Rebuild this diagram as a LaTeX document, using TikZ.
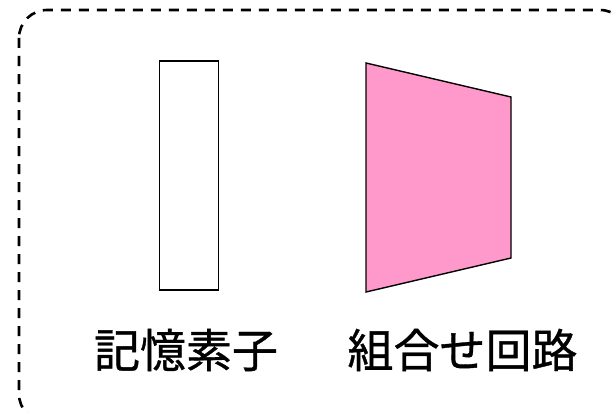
\documentclass[tikz,border=0pt]{standalone}
\usepackage{fontspec}
\newfontfamily\jpfont[FakeBold=0.8]{Noto Sans CJK JP}
\usetikzlibrary{positioning}

\definecolor{circpink}{HTML}{FF99CC}

\begin{document}
\begin{tikzpicture}[x=1pt, y=-1pt]
          \tikzstyle{label}=[font=\jpfont\fontsize{46}{50}\selectfont, inner sep=0pt]
          \tikzstyle{part}=[draw=black, line width=1.4pt]

          \useasboundingbox (0,0) rectangle (615,412);
          \clip (0,0) rectangle (615,412);

          % outer frame
          \draw[dashed, dash pattern=on 10pt off 8pt, line width=2.6pt, rounded corners=28pt]
            (19,10) rectangle (628,422);

          % memory element
          \node[part, fill=white, minimum width=59pt, minimum height=229pt, inner sep=0pt]
            (mem) at (189,175.5) {};

          % combinational circuit
          \coordinate (c1) at (366,63);
          \coordinate (c2) at (511,97);
          \coordinate (c3) at (511,258);
          \coordinate (c4) at (366,292);
          \draw[part, fill=circpink, line join=miter] (c1) -- (c2) -- (c3) -- (c4) -- cycle;

          \node[label] (memlbl) at (186,350) {記憶素子};
          \node[label] (circlbl) at (462.5,350) {組合せ回路};

        \end{tikzpicture}
\end{document}
